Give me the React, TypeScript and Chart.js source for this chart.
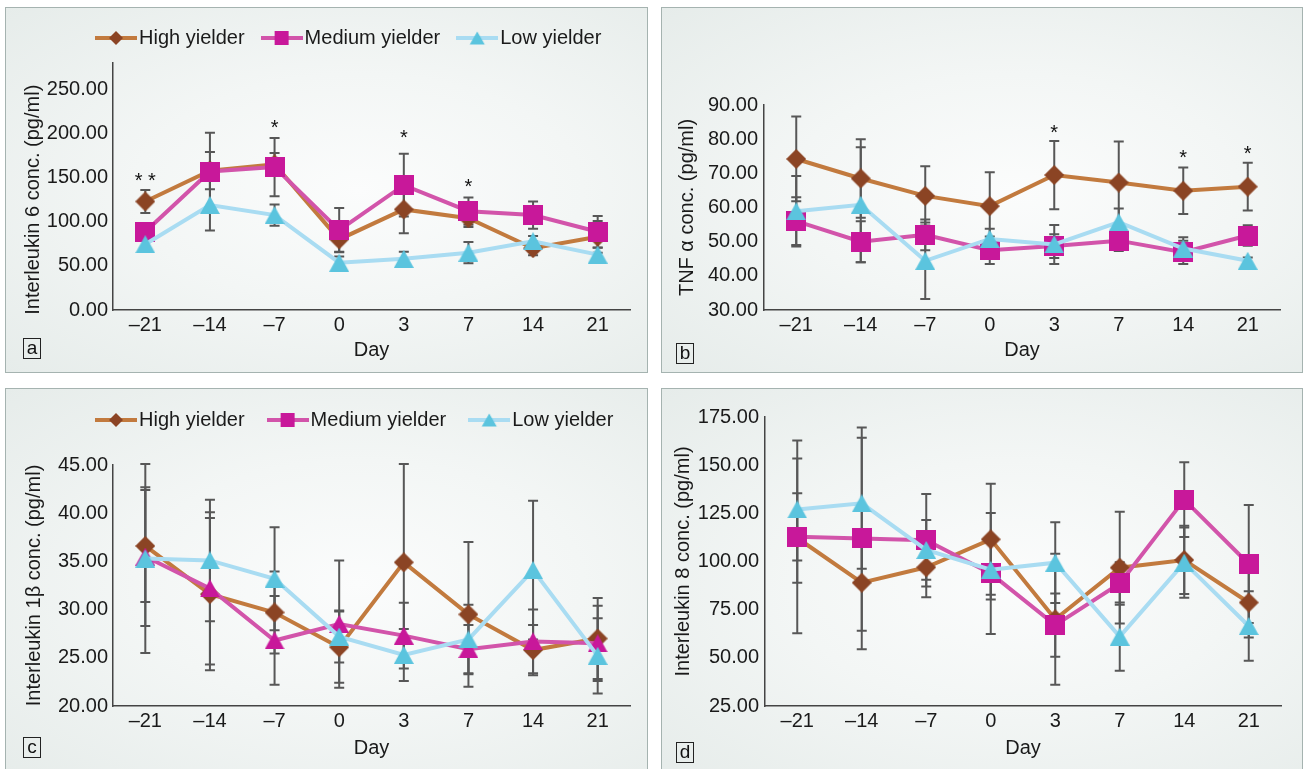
import React, { useEffect, useRef } from 'react';
import { Chart, registerables } from 'chart.js';

Chart.register(...registerables);

const FONT = '"Liberation Sans", Arial, Helvetica, sans-serif';

// ---------- data ----------
const days = ['–21', '–14', '–7', '0', '3', '7', '14', '21'];
const groupNames = ['High yielder', 'Medium yielder', 'Low yielder'];

// (a) Interleukin 6
const il6High = [123, 158, 165, 80, 114, 104, 70, 83];
const il6HighErr = [13, 21, 13, 14, 27, 10, 8, 18];
const il6Medium = [88.7, 157, 162, 90.5, 141.5, 112, 107.6, 88.7];
const il6MediumErr = [10, 44, 33, 25, 35.5, 15.5, 15.5, 18];
const il6Low = [74.6, 119, 107.6, 53.6, 58, 65, 78, 62.8];
const il6LowErr = [6, 29, 12, 7, 8, 12, 6, 8];
const il6Stars = ['* *', '', '*', '', '*', '*', '', ''];
const il6StarLevels = [153, 0, 213, 0, 201.7, 146.5, 0, 0];

// (b) TNF alpha
const tnfHigh = [74.2, 68.5, 63.4, 60.4, 69.5, 67.3, 64.9, 66.1];
const tnfHighErr = [12.4, 11.5, 8.7, 9.9, 10, 12, 6.8, 7];
const tnfMedium = [56, 50, 52, 47.5, 48.7, 50.3, 46.9, 51.8];
const tnfMediumErr = [7, 6, 4.5, 4, 3.5, 3, 3.4, 3];
const tnfLow = [58.9, 60.8, 44.4, 50.8, 49.2, 55.7, 48, 44.4];
const tnfLowErr = [10.3, 16.8, 11.2, 3, 5.7, 4, 3.3, 1];
const tnfStars = ['', '', '', '', '*', '', '*', '*'];
const tnfStarLevels = [0, 0, 0, 0, 83.6, 0, 76.3, 77.3];

// (c) Interleukin 1 beta
const il1High = [36.6, 31.6, 29.7, 26.1, 34.9, 29.5, 25.8, 27];
const il1HighErr = [5.8, 7.9, 4.25, 3.7, 10.2, 7.5, 2.6, 4.2];
const il1Medium = [35.5, 32.2, 26.8, 28.5, 27.3, 25.9, 26.7, 26.5];
const il1MediumErr = [7.2, 7.9, 4.6, 6.6, 3.4, 2.5, 3.3, 3.9];
const il1Low = [35.3, 35.1, 33.2, 27.2, 25.3, 26.9, 34.1, 25.2];
const il1LowErr = [9.8, 6.3, 5.35, 2.7, 2.7, 3.6, 7.2, 3.9];

// (d) Interleukin 8
const il8High = [112.2, 89, 97, 111.5, 70, 96.8, 100.8, 78.7];
const il8HighErr = [23.2, 25, 15.6, 28.8, 34, 29, 17.7, 18.2];
const il8Medium = [112.8, 112, 111, 93.8, 67, 88.6, 132.1, 98.7];
const il8MediumErr = [50, 57.5, 24, 31.4, 16.4, 11, 19.4, 30.6];
const il8Low = [127, 130.2, 106, 95.7, 99.4, 61, 99.4, 66.5];
const il8LowErr = [26.5, 34, 15.5, 15.4, 21, 17.7, 18.2, 18];

// ---------- styles ----------
const lineColors = ['#C27A3E', '#D254AA', '#A9DCF2'];
const markerColors = ['#8B4424', '#C8189A', '#5BC4DE'];
const legendShapes = ['diamond', 'square', 'triangle'];
const AXIS_COLOR = '#444';
const TEXT_COLOR = '#1a1a1a';

function shapePath(g, shape, cx, cy, w, h) {
  g.beginPath();
  if (shape === 'diamond') {
    g.moveTo(cx, cy - h / 2);
    g.lineTo(cx + w / 2, cy);
    g.lineTo(cx, cy + h / 2);
    g.lineTo(cx - w / 2, cy);
  } else if (shape === 'square') {
    g.rect(cx - w / 2, cy - h / 2, w, h);
  } else {
    g.moveTo(cx, cy - h / 2);
    g.lineTo(cx + w / 2, cy + h / 2);
    g.lineTo(cx - w / 2, cy + h / 2);
  }
  g.closePath();
}

const markerSizes = { diamond: [20, 20], square: [20, 20], triangle: [20, 18] };
const legendMarkerSizes = { diamond: [14, 14], square: [14, 14], triangle: [15, 13] };

function markerImage(shape, color) {
  const [w, h] = markerSizes[shape];
  const c = document.createElement('canvas');
  c.width = w;
  c.height = h;
  const g = c.getContext('2d');
  g.fillStyle = color;
  shapePath(g, shape, w / 2, h / 2, w, h);
  g.fill();
  return c;
}

function legendIcon(i) {
  const c = document.createElement('canvas');
  c.width = 42;
  c.height = 16;
  const g = c.getContext('2d');
  g.strokeStyle = lineColors[i];
  g.lineWidth = 4;
  g.beginPath();
  g.moveTo(0, 8);
  g.lineTo(42, 8);
  g.stroke();
  const shape = legendShapes[i];
  const [w, h] = legendMarkerSizes[shape];
  g.fillStyle = markerColors[i];
  shapePath(g, shape, 21, 8, w, h);
  g.fill();
  return c;
}

// ---------- plugins ----------
const legendPlacePlugin = {
  id: 'legendPlace',
  beforeLayout(chart) {
    const lg = chart.legend;
    if (!lg || lg._fixedFit) return;
    const orig = lg.fit.bind(lg);
    lg.fit = function () {
      orig();
      const o = chart.options.plugins.legendPlace;
      if (lg.options.display && o && o.height != null) lg.height = o.height;
    };
    lg._fixedFit = true;
  },
  afterLayout(chart, _args, o) {
    const lg = chart.legend;
    if (!lg || !lg.options.display || !o) return;
    const pad = lg.options.labels.padding;
    lg.left = o.x - pad;
    lg.right = chart.width + 200;
    lg.top = o.y - pad - 10;
    lg.bottom = lg.top + 2 * pad + 40;
  }
};

const errorBarPlugin = {
  id: 'errorBars',
  beforeDatasetsDraw(chart) {
    const { ctx } = chart;
    const xs = chart.scales.x;
    const ys = chart.scales.y;
    ctx.save();
    ctx.strokeStyle = '#575757';
    ctx.lineWidth = 2;
    chart.data.datasets.forEach((ds) => {
      const errs = ds.errorBars;
      if (!errs) return;
      ds.data.forEach((v, i) => {
        const e = errs[i];
        if (!e) return;
        const px = xs.getPixelForValue(i);
        const top = ys.getPixelForValue(v + e);
        const bot = ys.getPixelForValue(v - e);
        ctx.beginPath();
        ctx.moveTo(px, top);
        ctx.lineTo(px, bot);
        ctx.moveTo(px - 5, top);
        ctx.lineTo(px + 5, top);
        ctx.moveTo(px - 5, bot);
        ctx.lineTo(px + 5, bot);
        ctx.stroke();
      });
    });
    ctx.restore();
  }
};

const starPlugin = {
  id: 'stars',
  afterDatasetsDraw(chart, _args, o) {
    if (!o || !o.labels) return;
    const { ctx } = chart;
    const xs = chart.scales.x;
    const ys = chart.scales.y;
    ctx.save();
    ctx.font = `20px ${FONT}`;
    ctx.fillStyle = '#111';
    ctx.textAlign = 'center';
    ctx.textBaseline = 'alphabetic';
    o.labels.forEach((t, i) => {
      if (!t) return;
      const px = xs.getPixelForValue(i);
      const py = ys.getPixelForValue(o.levels[i]);
      ctx.fillText(t, px, py + 11.8);
    });
    ctx.restore();
  }
};

const yTitlePlugin = {
  id: 'yTitle',
  afterDraw(chart, _args, o) {
    if (!o || !o.text) return;
    const { ctx } = chart;
    const y = chart.scales.y.getPixelForValue(o.center);
    ctx.save();
    ctx.translate(o.x, y);
    ctx.rotate(-Math.PI / 2);
    ctx.font = `20px ${FONT}`;
    ctx.fillStyle = TEXT_COLOR;
    ctx.textAlign = 'center';
    ctx.textBaseline = 'middle';
    ctx.fillText(o.text, 0, 0);
    ctx.restore();
  }
};

// ---------- panels ----------
const panels = [
  {
    key: 'a', letter: 'a', left: 5, top: 7, width: 643, height: 366,
    yMin: 0, yMax: 280, yStep: 50, yTitle: 'Interleukin 6 conc. (pg/ml)', yTitleCenter: 125, yTitleX: 27,
    values: [il6High, il6Medium, il6Low], errors: [il6HighErr, il6MediumErr, il6LowErr],
    markers: ['diamond', 'square', 'triangle'],
    legend: true, legendX: 97, legendY: 30, legendGap: 24,
    stars: il6Stars, starLevels: il6StarLevels,
    plotLeft: 107, plotRight: 624, plotTop: 55, plotBottom: 302, dayPad: 10, yTickPad: 5,
    letterX: 23, letterY: 338
  },
  {
    key: 'b', letter: 'b', left: 661, top: 7, width: 642, height: 366,
    yMin: 30, yMax: 90, yStep: 10, yTitle: 'TNF α conc. (pg/ml)', yTitleCenter: 60, yTitleX: 25,
    values: [tnfHigh, tnfMedium, tnfLow], errors: [tnfHighErr, tnfMediumErr, tnfLowErr],
    markers: ['diamond', 'square', 'triangle'],
    legend: false, legendX: 0, legendY: 0, legendGap: 20,
    stars: tnfStars, starLevels: tnfStarLevels,
    plotLeft: 102, plotRight: 618, plotTop: 97, plotBottom: 302, dayPad: 10, yTickPad: 6,
    letterX: 676, letterY: 343
  },
  {
    key: 'c', letter: 'c', left: 5, top: 388, width: 643, height: 392,
    yMin: 20, yMax: 45, yStep: 5, yTitle: 'Interleukin 1β conc. (pg/ml)', yTitleCenter: 32.5, yTitleX: 28,
    values: [il1High, il1Medium, il1Low], errors: [il1HighErr, il1MediumErr, il1LowErr],
    markers: ['diamond', 'triangle', 'triangle'],
    legend: true, legendX: 97, legendY: 31, legendGap: 30,
    stars: null, starLevels: null,
    plotLeft: 107, plotRight: 624, plotTop: 76, plotBottom: 317, dayPad: 19, yTickPad: 5,
    letterX: 23, letterY: 737
  },
  {
    key: 'd', letter: 'd', left: 661, top: 388, width: 642, height: 392,
    yMin: 25, yMax: 175, yStep: 25, yTitle: 'Interleukin 8 conc. (pg/ml)', yTitleCenter: 100, yTitleX: 21,
    values: [il8High, il8Medium, il8Low], errors: [il8HighErr, il8MediumErr, il8LowErr],
    markers: ['diamond', 'square', 'triangle'],
    legend: false, legendX: 0, legendY: 0, legendGap: 20,
    stars: null, starLevels: null,
    plotLeft: 103, plotRight: 619, plotTop: 28, plotBottom: 317, dayPad: 19, yTickPad: 6,
    letterX: 676, letterY: 742
  }
];

function buildConfig(p) {
  const cw = p.width - 2;
  const ch = p.height - 2;
  const font = { size: 20, family: FONT };
  return {
    type: 'line',
    data: {
      labels: days,
      datasets: p.values.map((vals, i) => ({
        label: groupNames[i],
        data: vals,
        errorBars: p.errors[i],
        borderColor: lineColors[i],
        backgroundColor: markerColors[i],
        borderWidth: 4,
        pointStyle: markerImage(p.markers[i], markerColors[i]),
        pointRadius: 10,
        pointHoverRadius: 10,
        pointBorderWidth: 0,
        tension: 0,
        fill: false,
        order: 2 - i
      }))
    },
    options: {
      responsive: false,
      animation: false,
      devicePixelRatio: 1,
      events: [],
      layout: {
        padding: { left: 0, top: p.legend ? 0 : p.plotTop, right: cw - p.plotRight, bottom: 0 }
      },
      plugins: {
        legend: {
          display: p.legend,
          position: 'top',
          align: 'start',
          labels: {
            usePointStyle: true,
            pointStyleWidth: 26,
            padding: p.legendGap,
            font,
            color: TEXT_COLOR,
            generateLabels: (chart) =>
              chart.data.datasets.map((ds, i) => ({
                text: ds.label,
                pointStyle: legendIcon(i),
                fillStyle: markerColors[i],
                strokeStyle: lineColors[i],
                lineWidth: 0,
                hidden: false,
                datasetIndex: i,
                fontColor: TEXT_COLOR
              }))
          }
        },
        tooltip: { enabled: false },
        legendPlace: { x: p.legendX, y: p.legendY, height: p.plotTop },
        stars: { labels: p.stars, levels: p.starLevels },
        yTitle: { text: p.yTitle, center: p.yTitleCenter, x: p.yTitleX }
      },
      scales: {
        x: {
          type: 'category',
          offset: true,
          grid: { display: false, drawTicks: false },
          border: { display: true, color: AXIS_COLOR, width: 1.5 },
          ticks: { font, color: TEXT_COLOR, padding: 3, maxRotation: 0, autoSkip: false },
          title: { display: true, text: 'Day', font, color: TEXT_COLOR, padding: { top: 0, bottom: p.dayPad } },
          afterFit: (s) => { s.height = ch - p.plotBottom; }
        },
        y: {
          type: 'linear',
          min: p.yMin,
          max: p.yMax,
          grid: { display: false, drawTicks: false },
          border: { display: true, color: AXIS_COLOR, width: 1.5 },
          ticks: {
            stepSize: p.yStep,
            includeBounds: false,
            padding: p.yTickPad,
            font,
            color: TEXT_COLOR,
            callback: (v) => Number(v).toFixed(2)
          },
          afterFit: (s) => { s.width = p.plotLeft; }
        }
      }
    },
    plugins: [legendPlacePlugin, errorBarPlugin, starPlugin, yTitlePlugin]
  };
}

function Panel({ p }) {
  const ref = useRef(null);
  useEffect(() => {
    const chart = new Chart(ref.current, buildConfig(p));
    return () => chart.destroy();
  }, [p]);
  const cw = p.width - 2;
  const ch = p.height - 2;
  return (
    <div
      style={{
        position: 'absolute',
        left: p.left,
        top: p.top,
        width: p.width,
        height: p.height,
        boxSizing: 'border-box',
        border: '1px solid #a5b3b0',
        background: 'radial-gradient(ellipse at 55% 50%, #fbfcfc 0%, #f3f6f5 45%, #e6ecea 100%)'
      }}
    >
      <canvas
        ref={ref}
        width={cw}
        height={ch}
        style={{ position: 'absolute', left: 0, top: 0, width: cw, height: ch }}
      />
      <div
        style={{
          position: 'absolute',
          left: p.letterX - p.left - 1,
          top: p.letterY - p.top - 1,
          width: 18,
          height: 21,
          boxSizing: 'border-box',
          border: '1px solid #222',
          font: `19px ${FONT}`,
          lineHeight: '18px',
          textAlign: 'center',
          color: '#111'
        }}
      >
        {p.letter}
      </div>
    </div>
  );
}

export default function App() {
  return (
    <div
      style={{
        position: 'fixed',
        left: 0,
        top: 0,
        width: 1305,
        height: 769,
        overflow: 'hidden',
        background: '#ffffff',
        fontFamily: FONT
      }}
    >
      {panels.map((p) => (
        <Panel key={p.key} p={p} />
      ))}
    </div>
  );
}
